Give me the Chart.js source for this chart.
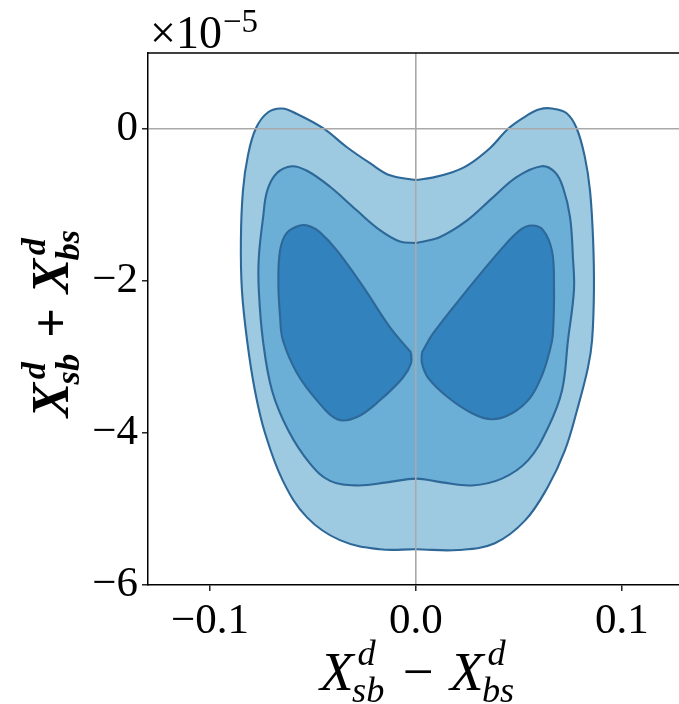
<!DOCTYPE html>
<html>
<head>
<meta charset="utf-8">
<script src="https://cdn.jsdelivr.net/npm/chart.js@4.4.1/dist/chart.umd.min.js"></script>
<style>
  html, body { margin: 0; padding: 0; background: #ffffff; }
  #wrap { width: 679px; height: 704px; position: relative; }
</style>
</head>
<body>
<div id="wrap"><canvas id="c" width="679" height="704"></canvas></div>
<script>
// ---------------- data (x in units, y in units of 1e-5) ----------------
const xTicks = [-0.1, 0.0, 0.1];
const xTickLabels = ['\u22120.1', '0.0', '0.1'];
const yTicks = [0, -2, -4, -6];
const yTickLabels = ['0', '\u22122', '\u22124', '\u22126'];
const xRange = [-0.1301, 0.1277];
const yRange = [-6, 1];
const offsetBase = '\u00d710';
const offsetExp = '\u22125';

// outermost (lightest) contour
const outerContour = [
  [0, -0.67], [0.008, -0.64], [0.0165, -0.58], [0.025, -0.48], [0.036, -0.25],
  [0.045, 0.01], [0.054, 0.18], [0.060, 0.26], [0.066, 0.27], [0.073, 0.21],
  [0.078, 0.01], [0.082, -0.37], [0.0845, -0.81], [0.086, -1.46], [0.0864, -2.12],
  [0.0855, -2.78], [0.0835, -3.14], [0.0786, -3.66], [0.0723, -4.23], [0.064, -4.71],
  [0.053, -5.15], [0.0383, -5.45], [0.0204, -5.54], [0, -5.53], [-0.0175, -5.53],
  [-0.0369, -5.41], [-0.0529, -5.11], [-0.0646, -4.63], [-0.0733, -4.00], [-0.0782, -3.44],
  [-0.082, -2.78], [-0.0845, -2.12], [-0.085, -1.46], [-0.084, -0.81], [-0.0816, -0.35],
  [-0.0777, 0.01], [-0.0718, 0.22], [-0.065, 0.27], [-0.058, 0.20], [-0.0451, 0.01],
  [-0.0335, -0.24], [-0.0223, -0.45], [-0.0126, -0.61], [0, -0.67]
];

// middle contour
const middleContour = [
  [0, -1.50], [0.0117, -1.42], [0.0245, -1.21], [0.0374, -0.90], [0.049, -0.63],
  [0.061, -0.49], [0.0675, -0.57], [0.0714, -0.77], [0.0748, -1.16], [0.0762, -1.69],
  [0.0767, -2.12], [0.0738, -2.78], [0.0709, -3.44], [0.0641, -3.93], [0.0544, -4.36],
  [0.0417, -4.60], [0.0272, -4.69], [0.0126, -4.65], [0, -4.60], [-0.0141, -4.65],
  [-0.0286, -4.69], [-0.0417, -4.63], [-0.0515, -4.40], [-0.0621, -3.96], [-0.0699, -3.44],
  [-0.0743, -2.78], [-0.0763, -2.12], [-0.0763, -1.69], [-0.0742, -1.16], [-0.0722, -0.81],
  [-0.0675, -0.58], [-0.0603, -0.49], [-0.0529, -0.55], [-0.0417, -0.76], [-0.0288, -1.07],
  [-0.0175, -1.33], [-0.0078, -1.48], [0, -1.50]
];

// innermost contour, left lobe
const innerLeftContour = [
  [-0.0024, -2.94], [-0.0126, -2.61], [-0.0255, -2.08], [-0.0383, -1.60], [-0.0466, -1.36],
  [-0.0515, -1.28], [-0.0563, -1.27], [-0.0628, -1.37], [-0.066, -1.60], [-0.0668, -2.03],
  [-0.066, -2.46], [-0.0646, -2.78], [-0.0578, -3.21], [-0.0481, -3.57], [-0.0383, -3.82],
  [-0.0286, -3.79], [-0.0175, -3.57], [-0.0063, -3.27], [-0.0024, -3.08], [-0.0024, -2.94]
];

// innermost contour, right lobe
const innerRightContour = [
  [0.0029, -2.94], [0.0083, -2.69], [0.0248, -2.12], [0.0408, -1.60], [0.0505, -1.33],
  [0.0563, -1.27], [0.0617, -1.33], [0.066, -1.60], [0.067, -2.03], [0.0665, -2.69],
  [0.0650, -2.91], [0.0612, -3.24], [0.0553, -3.54], [0.0466, -3.74], [0.0369, -3.82],
  [0.0272, -3.74], [0.0155, -3.53], [0.0058, -3.27], [0.0029, -3.08], [0.0029, -2.94]
];

// ---------------- styling ----------------
const FONT = '"Liberation Serif", "DejaVu Serif", serif';
const EDGE = '#2d6898';
const FILL_OUTER = '#9ecae1';
const FILL_MID = '#6baed6';
const FILL_INNER = '#3182bd';

function toPts(arr) { return arr.map(p => ({ x: p[0], y: p[1] })); }

function contourDataset(arr, fill, order) {
  return {
    data: toPts(arr),
    showLine: true,
    fill: 'shape',
    backgroundColor: fill,
    borderColor: EDGE,
    borderWidth: 2.1,
    pointRadius: 0,
    pointHoverRadius: 0,
    tension: 0.38,
    order: order
  };
}

// math label drawer: items like {main:'X', sup:'d', sub:'sb'} or {op:'−'}
function drawMath(ctx, items, size, weight, opGap) {
  const ss = size * 0.66;
  let w = 0;
  const layout = [];
  for (const it of items) {
    if (it.op) {
      ctx.font = `${weight} ${size}px ${FONT}`;
      const gap = size * opGap;
      const ow = ctx.measureText(it.op).width;
      layout.push({ op: it.op, x: w + gap });
      w += ow + 2 * gap;
    } else {
      ctx.font = `italic ${weight} ${size}px ${FONT}`;
      const mw = ctx.measureText(it.main).width;
      ctx.font = `italic ${weight} ${ss}px ${FONT}`;
      const supW = ctx.measureText(it.sup).width + size * 0.07;
      const subW = ctx.measureText(it.sub).width - size * 0.03;
      layout.push({ it, x: w, mw });
      w += mw + Math.max(supW, subW) + size * 0.03;
    }
  }
  const x0 = -w / 2;
  ctx.textBaseline = 'alphabetic';
  ctx.textAlign = 'left';
  for (const L of layout) {
    if (L.op) {
      ctx.font = `${weight} ${size}px ${FONT}`;
      ctx.fillText(L.op, x0 + L.x, 0);
    } else {
      ctx.font = `italic ${weight} ${size}px ${FONT}`;
      ctx.fillText(L.it.main, x0 + L.x, 0);
      ctx.font = `italic ${weight} ${ss}px ${FONT}`;
      ctx.fillText(L.it.sup, x0 + L.x + L.mw + size * 0.07, -size * 0.45);
      ctx.fillText(L.it.sub, x0 + L.x + L.mw - size * 0.03, size * 0.22);
    }
  }
}

const xLabelItems = [{ main: 'X', sup: 'd', sub: 'sb' }, { op: '\u2212' }, { main: 'X', sup: 'd', sub: 'bs' }];
const yLabelItems = [{ main: 'X', sup: 'd', sub: 'sb' }, { op: '+' }, { main: 'X', sup: 'd', sub: 'bs' }];

const decor = {
  id: 'decor',
  afterDraw(chart) {
    const { ctx, chartArea: a } = chart;
    ctx.save();
    // top spine (right spine lies outside the picture)
    ctx.strokeStyle = '#000';
    ctx.lineWidth = 1.5;
    ctx.beginPath();
    ctx.moveTo(a.left, a.top);
    ctx.lineTo(chart.width, a.top);
    ctx.stroke();
    ctx.fillStyle = '#000';
    // offset text ×10^−5
    ctx.textAlign = 'left';
    ctx.textBaseline = 'alphabetic';
    ctx.font = `46px ${FONT}`;
    ctx.fillText(offsetBase, a.left + 2, 48);
    const bw = ctx.measureText(offsetBase).width;
    ctx.font = `33px ${FONT}`;
    ctx.fillText(offsetExp, a.left + 2 + bw + 1, 32);
    // x axis title
    ctx.save();
    ctx.translate(418, 690);
    drawMath(ctx, xLabelItems, 55, 'normal', 0.3);
    ctx.restore();
    // y axis title
    ctx.save();
    ctx.translate(68, (a.top + a.bottom) / 2 + 4);
    ctx.rotate(-Math.PI / 2);
    drawMath(ctx, yLabelItems, 52, 'bold', 0.28);
    ctx.restore();
    ctx.restore();
  }
};

const gridColor = c => (c.tick && c.tick.value === 0) ? '#a9a9a9' : 'rgba(0,0,0,0)';

new Chart(document.getElementById('c'), {
  type: 'scatter',
  data: {
    datasets: [
      contourDataset(innerLeftContour, FILL_INNER, 1),
      contourDataset(innerRightContour, FILL_INNER, 1),
      contourDataset(middleContour, FILL_MID, 2),
      contourDataset(outerContour, FILL_OUTER, 3)
    ]
  },
  options: {
    responsive: false,
    animation: false,
    devicePixelRatio: 1,
    layout: { padding: { top: 53, left: 0, right: 0, bottom: 0 } },
    plugins: { legend: { display: false }, tooltip: { enabled: false } },
    scales: {
      x: {
        type: 'linear',
        min: xRange[0],
        max: xRange[1],
        afterBuildTicks: s => { s.ticks = xTicks.map(v => ({ value: v })); },
        afterFit: s => { s.height = 119; },
        grid: { color: gridColor, lineWidth: 1.6, tickColor: '#000', tickLength: 6, tickWidth: 1.3, z: 1 },
        border: { display: true, color: '#000', width: 1.5, z: 2 },
        ticks: {
          color: '#000',
          font: { family: FONT, size: 43 },
          padding: 5,
          maxRotation: 0,
          autoSkip: false,
          callback: (v, i) => xTickLabels[i]
        }
      },
      y: {
        type: 'linear',
        min: yRange[0],
        max: yRange[1],
        afterBuildTicks: s => { s.ticks = yTicks.map(v => ({ value: v })); },
        afterFit: s => { s.width = 148; },
        grid: { color: gridColor, lineWidth: 1.6, tickColor: '#000', tickLength: 6, tickWidth: 1.3, z: 1 },
        border: { display: true, color: '#000', width: 1.5, z: 2 },
        ticks: {
          color: '#000',
          font: { family: FONT, size: 43 },
          padding: 4,
          autoSkip: false,
          callback: (v, i) => yTickLabels[i]
        }
      }
    }
  },
  plugins: [decor]
});
</script>
</body>
</html>
